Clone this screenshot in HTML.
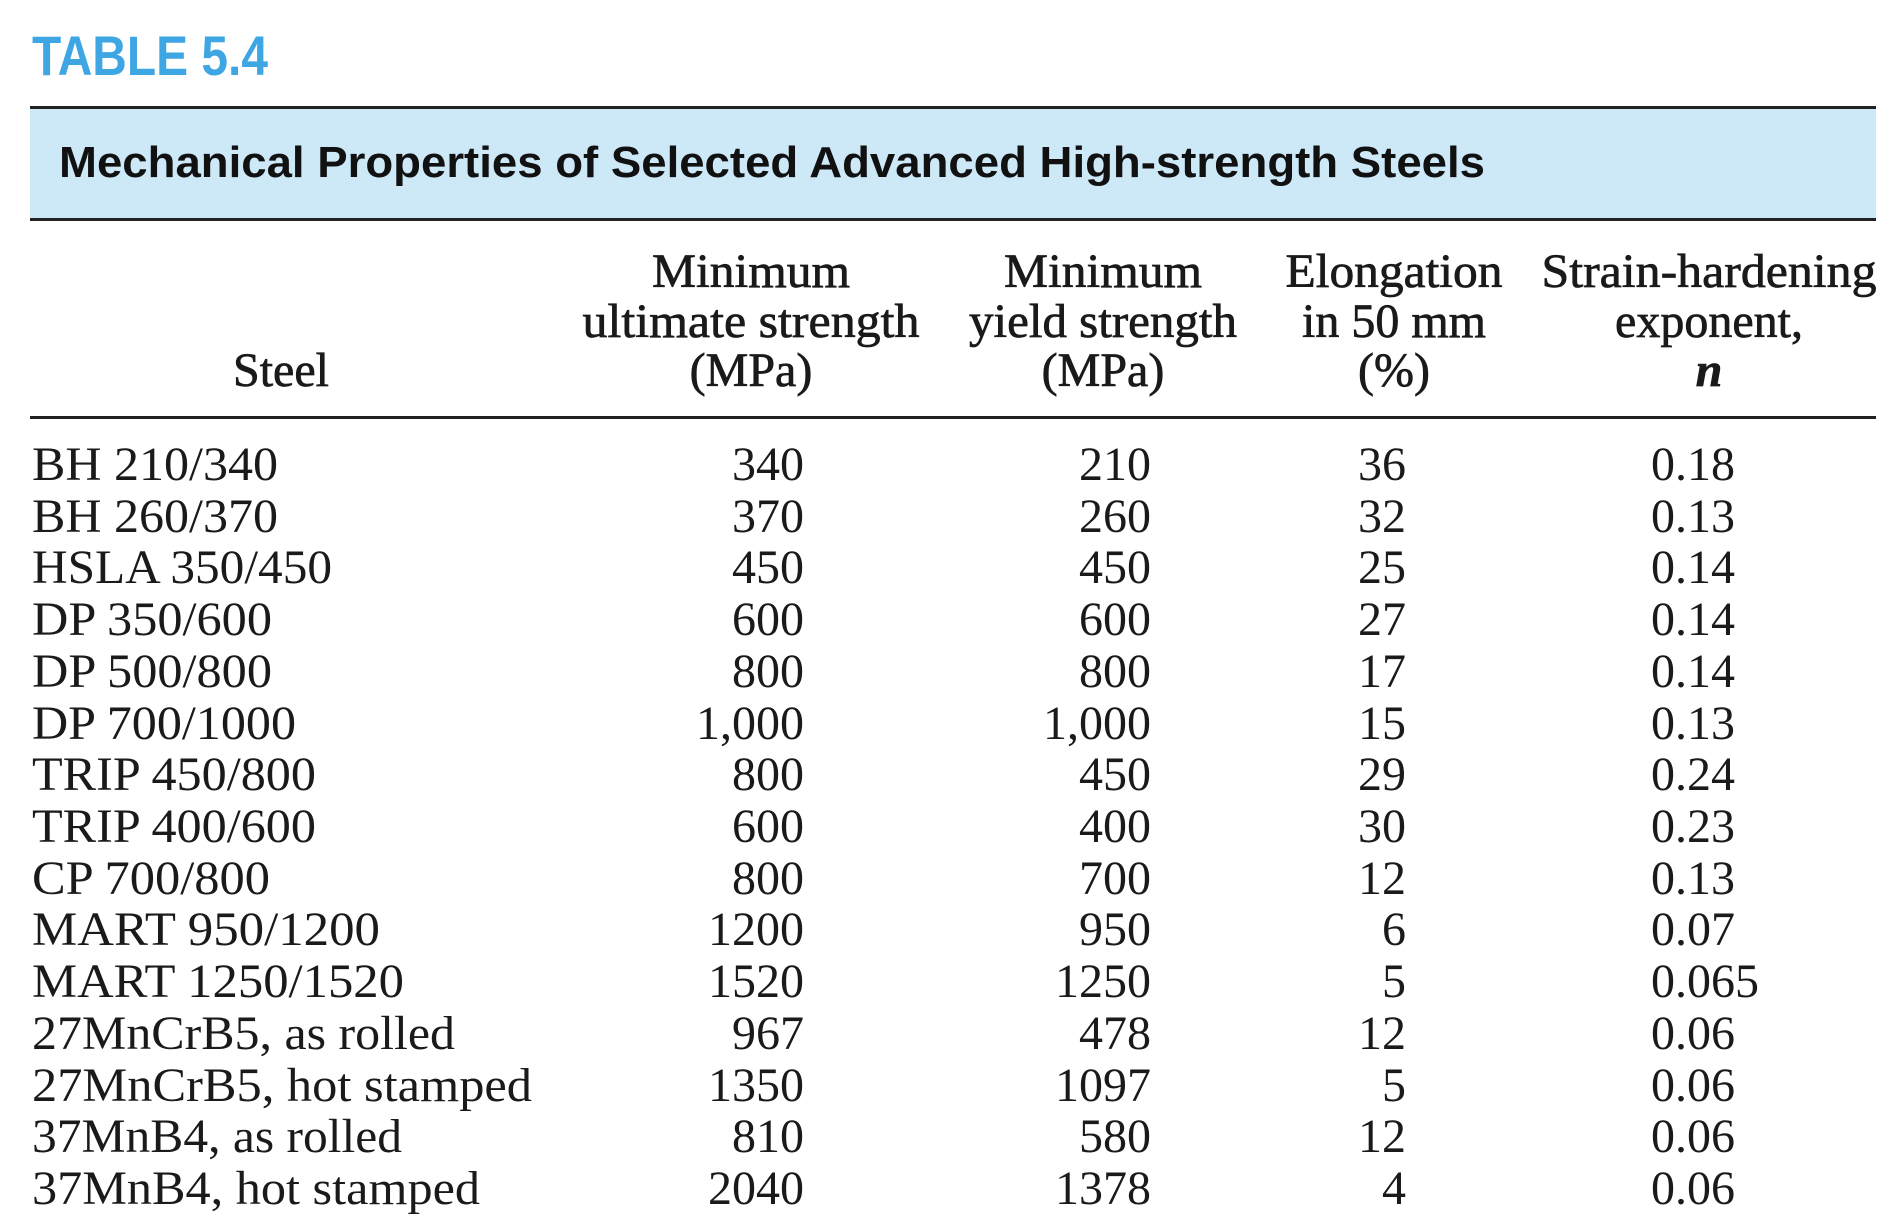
<!DOCTYPE html>
<html><head><meta charset="utf-8"><style>
html,body{margin:0;padding:0;background:#fff;}
svg{display:block}
.s{font-family:"Liberation Serif",serif;font-size:48px;fill:#1a1a1a}
.h{font-family:"Liberation Serif",serif;font-size:48px;fill:#1a1a1a;stroke:#1a1a1a;stroke-width:0.7}
</style></head><body>
<svg width="1902" height="1225" viewBox="0 0 1902 1225" xmlns="http://www.w3.org/2000/svg">
<rect width="1902" height="1225" fill="#fff"/>
<text x="32" y="75" font-family="Liberation Sans,sans-serif" font-weight="bold" font-size="56" fill="#3ea6e3" textLength="236" lengthAdjust="spacingAndGlyphs">TABLE 5.4</text>
<rect x="30" y="108" width="1846" height="112" fill="#cde8f7"/>
<rect x="30" y="106" width="1846" height="3" fill="#222"/>
<rect x="30" y="218" width="1846" height="3" fill="#222"/>
<text x="59" y="177" font-family="Liberation Sans,sans-serif" font-weight="bold" font-size="44" fill="#111" textLength="1426" lengthAdjust="spacingAndGlyphs">Mechanical Properties of Selected Advanced High-strength Steels</text>
<g class="h" text-anchor="middle">
<text x="281" y="386">Steel</text>
<text x="751" y="287" textLength="198" lengthAdjust="spacingAndGlyphs">Minimum</text>
<text x="751" y="337" textLength="337" lengthAdjust="spacingAndGlyphs">ultimate strength</text>
<text x="751" y="386">(MPa)</text>
<text x="1103" y="287" textLength="198" lengthAdjust="spacingAndGlyphs">Minimum</text>
<text x="1103" y="337" textLength="268" lengthAdjust="spacingAndGlyphs">yield strength</text>
<text x="1103" y="386">(MPa)</text>
<text x="1394" y="287" textLength="217" lengthAdjust="spacingAndGlyphs">Elongation</text>
<text x="1394" y="337">in 50 mm</text>
<text x="1394" y="386">(%)</text>
<text x="1709" y="287" textLength="335" lengthAdjust="spacingAndGlyphs">Strain-hardening</text>
<text x="1709" y="337">exponent,</text>
<text x="1709" y="386" font-style="italic" font-weight="bold">n</text>
</g>
<rect x="30" y="416" width="1846" height="3" fill="#222"/>
<g class="s">
<g>
<text x="32" y="480" textLength="246" lengthAdjust="spacingAndGlyphs">BH 210/340</text>
<text x="32" y="532" textLength="246" lengthAdjust="spacingAndGlyphs">BH 260/370</text>
<text x="32" y="583" textLength="300" lengthAdjust="spacingAndGlyphs">HSLA 350/450</text>
<text x="32" y="635" textLength="240" lengthAdjust="spacingAndGlyphs">DP 350/600</text>
<text x="32" y="687" textLength="240" lengthAdjust="spacingAndGlyphs">DP 500/800</text>
<text x="32" y="739" textLength="264" lengthAdjust="spacingAndGlyphs">DP 700/1000</text>
<text x="32" y="790" textLength="284" lengthAdjust="spacingAndGlyphs">TRIP 450/800</text>
<text x="32" y="842" textLength="284" lengthAdjust="spacingAndGlyphs">TRIP 400/600</text>
<text x="32" y="894" textLength="238" lengthAdjust="spacingAndGlyphs">CP 700/800</text>
<text x="32" y="945" textLength="348" lengthAdjust="spacingAndGlyphs">MART 950/1200</text>
<text x="32" y="997" textLength="372" lengthAdjust="spacingAndGlyphs">MART 1250/1520</text>
<text x="32" y="1049" textLength="423" lengthAdjust="spacingAndGlyphs">27MnCrB5, as rolled</text>
<text x="32" y="1101" textLength="500" lengthAdjust="spacingAndGlyphs">27MnCrB5, hot stamped</text>
<text x="32" y="1152" textLength="370" lengthAdjust="spacingAndGlyphs">37MnB4, as rolled</text>
<text x="32" y="1204" textLength="448" lengthAdjust="spacingAndGlyphs">37MnB4, hot stamped</text>
</g>
<g text-anchor="end">
<text x="804" y="480">340</text><text x="804" y="532">370</text><text x="804" y="583">450</text><text x="804" y="635">600</text><text x="804" y="687">800</text><text x="804" y="739">1,000</text><text x="804" y="790">800</text><text x="804" y="842">600</text><text x="804" y="894">800</text><text x="804" y="945">1200</text><text x="804" y="997">1520</text><text x="804" y="1049">967</text><text x="804" y="1101">1350</text><text x="804" y="1152">810</text><text x="804" y="1204">2040</text>
<text x="1151" y="480">210</text><text x="1151" y="532">260</text><text x="1151" y="583">450</text><text x="1151" y="635">600</text><text x="1151" y="687">800</text><text x="1151" y="739">1,000</text><text x="1151" y="790">450</text><text x="1151" y="842">400</text><text x="1151" y="894">700</text><text x="1151" y="945">950</text><text x="1151" y="997">1250</text><text x="1151" y="1049">478</text><text x="1151" y="1101">1097</text><text x="1151" y="1152">580</text><text x="1151" y="1204">1378</text>
<text x="1406" y="480">36</text><text x="1406" y="532">32</text><text x="1406" y="583">25</text><text x="1406" y="635">27</text><text x="1406" y="687">17</text><text x="1406" y="739">15</text><text x="1406" y="790">29</text><text x="1406" y="842">30</text><text x="1406" y="894">12</text><text x="1406" y="945">6</text><text x="1406" y="997">5</text><text x="1406" y="1049">12</text><text x="1406" y="1101">5</text><text x="1406" y="1152">12</text><text x="1406" y="1204">4</text>
</g>
<g>
<text x="1651" y="480">0.18</text><text x="1651" y="532">0.13</text><text x="1651" y="583">0.14</text><text x="1651" y="635">0.14</text><text x="1651" y="687">0.14</text><text x="1651" y="739">0.13</text><text x="1651" y="790">0.24</text><text x="1651" y="842">0.23</text><text x="1651" y="894">0.13</text><text x="1651" y="945">0.07</text><text x="1651" y="997">0.065</text><text x="1651" y="1049">0.06</text><text x="1651" y="1101">0.06</text><text x="1651" y="1152">0.06</text><text x="1651" y="1204">0.06</text>
</g>
</g>
</svg>
</body></html>
